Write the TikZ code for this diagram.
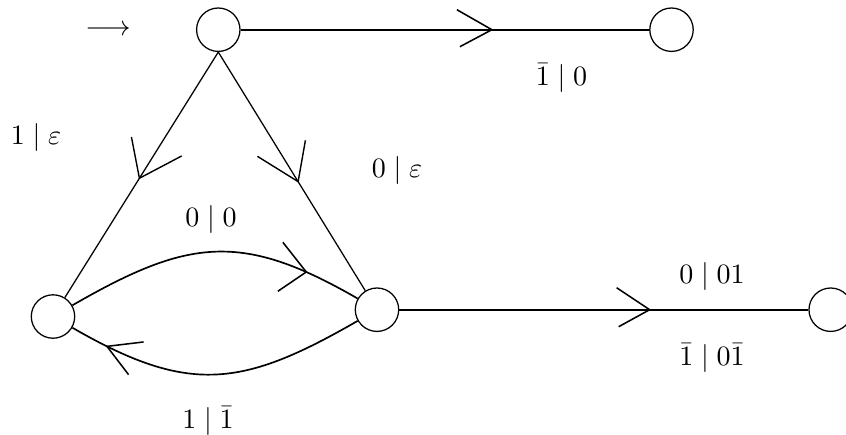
\documentclass[tikz,border=0pt]{standalone}
\usepackage{amsmath}
\begin{document}
\begin{tikzpicture}[x=0.357pt,y=-0.357pt,
  state/.style={circle,draw,line width=0.45pt,minimum size=15.5pt,inner sep=0pt},
  straightedge/.style={line width=0.7pt},
  diagedge/.style={line width=0.45pt},
  curveedge/.style={line width=0.6pt,looseness=1.2},
  arm/.style={line width=0.55pt},
  lbl/.style={anchor=base,inner sep=0pt}]
\useasboundingbox (0,0) rectangle (846,434);
% states
\node[state] (q0) at (218.3,29.7) {};
\node[state] (q1) at (671.5,29.7) {};
\node[state] (q2) at (53,316.5) {};
\node[state] (q3) at (377,309.7) {};
\node[state] (q4) at (830.7,309.7) {};
% start marker
\node (start) at (108,30.5) {$\longrightarrow$};
% connectors
\draw[straightedge] (q0) -- coordinate[pos=0.615] (tT) (q1);
\draw[straightedge] (q3) -- coordinate[pos=0.612] (tB) (q4);
\draw[diagedge] (q0.south) -- coordinate[pos=0.514] (tL) (q2);
\draw[diagedge] (q0.south) -- coordinate[pos=0.543] (tR) (q3);
\draw[curveedge] (q2) to[out=30,in=150] coordinate[pos=0.84] (tU) (q3);
\draw[curveedge] (q3) to[out=210,in=-30] coordinate[pos=0.895] (tD) (q2);
% arrowheads
\draw[arm] (tT) ++(-35,-20) -- (tT) -- ++(-32,17);
\draw[arm] (tB) ++(-33,-22) -- (tB) -- ++(-31,17);
\draw[arm,line width=0.5pt] (tL) ++(-8,-41.3) -- (tL) -- ++(42.3,-22.3);
\draw[arm,line width=0.5pt] (tR) ++(7.3,-41.3) -- (tR) -- ++(-40.7,-25.3);
\draw[arm] (tU) ++(-23.4,-29.7) -- (tU) -- ++(-28.4,19.3);
\draw[arm] (tD) ++(36.6,-4.4) -- (tD) -- ++(21.6,28.3);
% labels
\node[lbl] (l1) at (36,144) {$1 \mid \varepsilon$};
\node[lbl] (l2) at (397,177) {$0 \mid \varepsilon$};
\node[lbl] (l3) at (211,226.5) {$0 \mid 0$};
\node[lbl] (l4) at (208,428) {$1 \mid \bar{1}$};
\node[lbl] (l5) at (561.5,85) {$\bar{1} \mid 0$};
\node[lbl] (l6) at (712,283.3) {$0 \mid 01$};
\node[lbl] (l7) at (712,365) {$\bar{1} \mid 0\bar{1}$};
\end{tikzpicture}
\end{document}
